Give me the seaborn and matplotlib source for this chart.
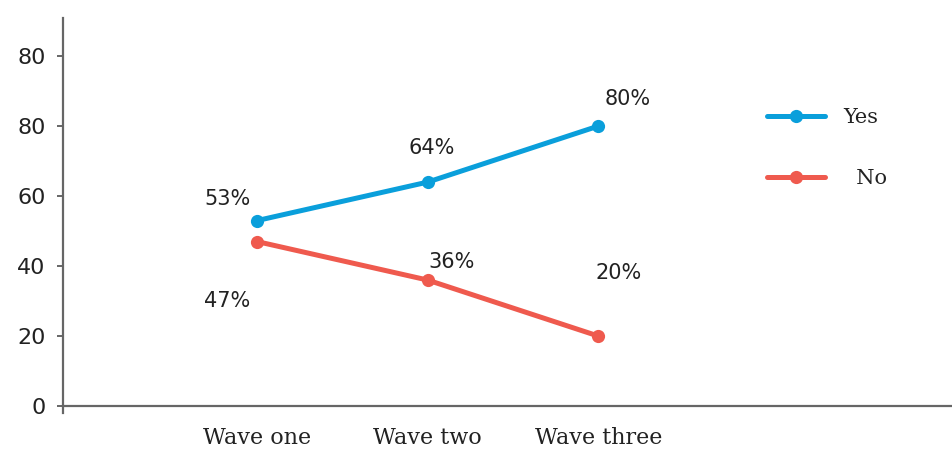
import matplotlib
matplotlib.use("Agg")
import matplotlib.pyplot as plt
from matplotlib.lines import Line2D
import pandas as pd
import seaborn as sns

# Survey responses across three waves (percent)
waves = ["Wave one", "Wave two", "Wave three"]
yes_values = [53, 64, 80]
no_values = [47, 36, 20]
series_names = ["Yes", "No"]
y_ticks = [0, 20, 40, 60, 80, 100]
y_tick_labels = ["0", "20", "40", "60", "80", "80"]

colors = {"Yes": "#0a9fdb", "No": "#ef5a4e"}

df = pd.DataFrame({
    "wave": waves * 2,
    "value": yes_values + no_values,
    "answer": [series_names[0]] * len(waves) + [series_names[1]] * len(waves),
})

sns.set_theme(style="white")
plt.rcParams["font.family"] = ["DejaVu Sans"]

fig = plt.figure(figsize=(9.53, 4.49), dpi=100)
ax = fig.add_axes([63 / 953, 36 / 449, 890 / 953, 395 / 449])

sns.lineplot(data=df, x="wave", y="value", hue="answer", palette=colors,
             marker="o", markersize=9.5, markeredgewidth=0, linewidth=3.6,
             sort=False, ax=ax, legend=False)

ax.set_xlim(-1.138, 4.08)
ax.set_ylim(-2, 110.9)
ax.set_yticks(y_ticks)
ax.set_yticklabels(y_tick_labels)
ax.set_xlabel("")
ax.set_ylabel("")
ax.tick_params(axis="x", length=0, pad=15, labelsize=16,
               labelfontfamily="DejaVu Serif", labelcolor="#222222")
ax.tick_params(axis="y", length=4.5, width=1.4, color="#666666", pad=8,
               left=True, labelsize=16, labelcolor="#222222")

for side in ["top", "right"]:
    ax.spines[side].set_visible(False)
ax.spines["bottom"].set_position(("data", 0))
for side in ["left", "bottom"]:
    ax.spines[side].set_color("#666666")
    ax.spines[side].set_linewidth(1.6)

# Value labels, placed relative to each point (offsets in pixels)
k = 0.72
yes_offsets = [(-30, 22), (4, 34), (29, 27)]
no_offsets = [(-30, -59), (24, 18), (20, 63)]
for vals, offs in [(yes_values, yes_offsets), (no_values, no_offsets)]:
    for i, (v, (dx, dy)) in enumerate(zip(vals, offs)):
        ax.annotate(f"{v}%", xy=(i, v), xytext=(dx * k, dy * k),
                    textcoords="offset points", ha="center", va="center",
                    fontsize=15, color="#222222")

# Legend
handles = [Line2D([], [], color=colors[n], linewidth=3.6, marker="o",
                  markersize=9.5, markeredgewidth=0) for n in series_names]
leg = ax.legend(handles, ["Yes", "  No"], loc="center left",
                bbox_to_anchor=(704 / 890, 265 / 395),
                frameon=False, borderaxespad=0, borderpad=0,
                handlelength=2.8, handletextpad=0.86,
                labelspacing=2.0, prop={"family": "DejaVu Serif", "size": 15})
for t in leg.get_texts():
    t.set_color("#222222")

fig.savefig("out.png", dpi=100)
